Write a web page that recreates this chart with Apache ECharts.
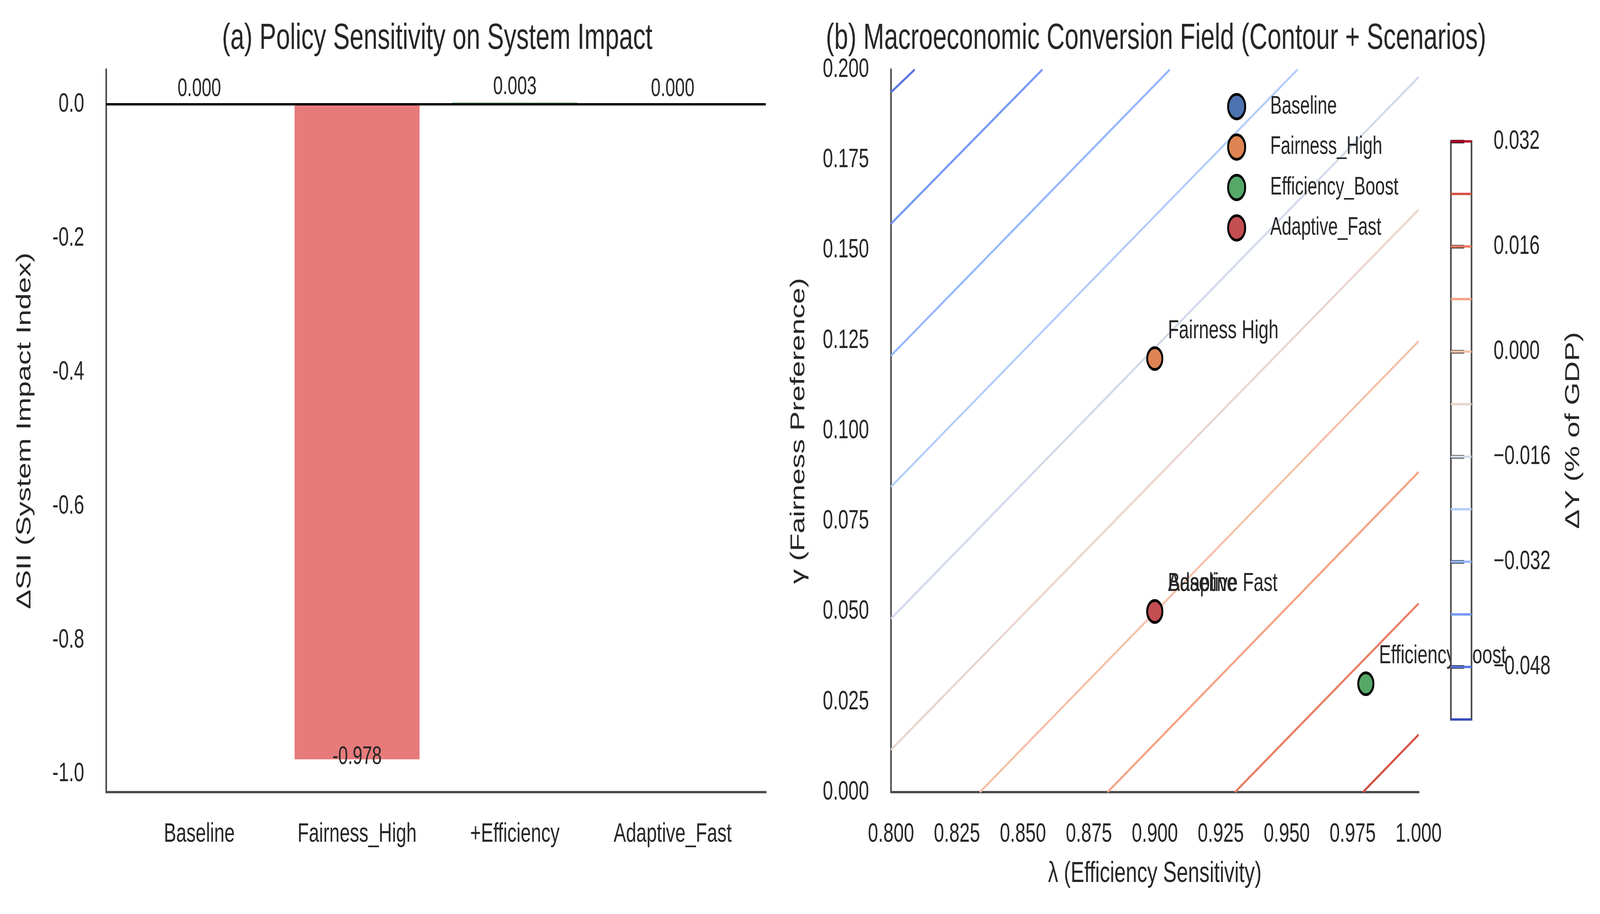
<!DOCTYPE html>
<html><head><meta charset="utf-8">
<script src="https://cdn.jsdelivr.net/npm/echarts@6/dist/echarts.min.js"></script>
<style>html,body{margin:0;padding:0;background:#fff;overflow:hidden}#c{position:absolute;left:0;top:0;width:5892px;height:2340px;transform-origin:0 0}</style>
</head><body><div id="c"></div><script>
// ---- data ----
const categories = ['Baseline', 'Fairness_High', '+Efficiency', 'Adaptive_Fast'];
const deltaSII = [0.000, -0.978, 0.003, 0.000];
const barColors = ['#8c8c8c', '#E77A7B', '#9fd0a4', '#7fa0d0'];

const scenarioNames = ['Baseline', 'Fairness_High', 'Efficiency_Boost', 'Adaptive_Fast'];
const scenarioLambda = [0.90, 0.90, 0.98, 0.90];
const scenarioGamma = [0.05, 0.12, 0.03, 0.05];
const scenarioColors = ['#4C72B0', '#DD8452', '#55A868', '#C44E52'];

// contour lines of ΔY: level, start point, end point (λ, γ)
const contourLevels = [-0.048, -0.040, -0.032, -0.024, -0.016, -0.008, 0.000, 0.008, 0.016, 0.024];
const contourStart = [[0.8, 0.1937], [0.8, 0.1573], [0.8, 0.1208], [0.8, 0.0845], [0.8, 0.0480], [0.8, 0.0117], [0.8337, 0], [0.8821, 0], [0.9304, 0], [0.9789, 0]];
const contourEnd = [[0.8090, 0.2], [0.8574, 0.2], [0.9057, 0.2], [0.9541, 0.2], [1.0, 0.1979], [1.0, 0.1612], [1.0, 0.1248], [1.0, 0.0886], [1.0, 0.0522], [1.0, 0.0159]];
const contourColors = ['#5674e0', '#7598f6', '#95b7ff', '#b4cdfa', '#d1dae9', '#e8d6cc', '#f5c1a8', '#f6a384', '#ea7c61', '#d44e41'];

const colorbarLevels = [-0.056, -0.048, -0.040, -0.032, -0.024, -0.016, -0.008, 0.000, 0.008, 0.016, 0.024, 0.032];
const colorbarColors = ['#3b4cc0', '#5674e0', '#7598f6', '#95b7ff', '#b4cdfa', '#d1dae9', '#e8d6cc', '#f5c1a8', '#f6a384', '#ea7c61', '#d44e41', '#b40426'];
const colorbarTicks = [-0.048, -0.032, -0.016, 0.000, 0.016, 0.032];
const siiTicks = [-1.0, -0.8, -0.6, -0.4, -0.2, 0.0];

// ---- fit the 5892x2340 drawing into the actual window ----
const el = document.getElementById('c');
el.style.transform = 'scale(' + (window.innerWidth / 5892) + ',' + (window.innerHeight / 2340) + ')';

// ---- style ----
const FONT = 'Liberation Sans';
const TXT = '#262626';
const SPINE = '#4d4d4d';
const SW = 6;

const chart = echarts.init(el, null, {renderer: 'canvas', width: 5892, height: 2340});

const series = [];
// bars
series.push({
  type: 'bar', xAxisIndex: 0, yAxisIndex: 0, barWidth: 460,
  data: deltaSII.map((v, i) => ({
    value: [i, v],
    itemStyle: {color: barColors[i]},
    label: v < 0
      ? {show: true, position: 'insideBottom', distance: 0, offset: [0, 26]}
      : {show: true, position: 'top', distance: 7}
  })),
  label: {show: true, formatter: q => q.value[1].toFixed(3), fontSize: 64, color: TXT, fontFamily: FONT},
  markLine: {silent: true, symbol: 'none', label: {show: false},
    lineStyle: {color: '#000', width: 6, type: 'solid'}, data: [{yAxis: 0}]},
  z: 2
});
// contour lines
contourLevels.forEach((lv, i) => {
  series.push({
    type: 'line', xAxisIndex: 1, yAxisIndex: 1, silent: true, symbol: 'none',
    data: [contourStart[i], contourEnd[i]],
    lineStyle: {color: contourColors[i], width: 6}, z: 1
  });
});
// scenarios
scenarioNames.forEach((nm, i) => {
  series.push({
    name: nm, type: 'scatter', xAxisIndex: 1, yAxisIndex: 1,
    data: [[scenarioLambda[i], scenarioGamma[i]]],
    symbolSize: 56,
    itemStyle: {color: scenarioColors[i], borderColor: '#000', borderWidth: 7, opacity: 1},
    label: {show: true, formatter: nm.replace('_', ' '), position: [80, -39], align: 'left', verticalAlign: 'middle',
      fontSize: 66, color: TXT, fontFamily: FONT},
    z: 3 + i
  });
});
// colorbar lines
colorbarLevels.forEach((lv, i) => {
  series.push({
    type: 'line', xAxisIndex: 2, yAxisIndex: 2, silent: true, symbol: 'none',
    data: [[0, lv], [1, lv]],
    lineStyle: {color: colorbarColors[i], width: 6}, z: 12
  });
});

const option = {
  animation: false,
  backgroundColor: '#fff',
  textStyle: {fontFamily: FONT},
  title: [
    {text: '(a) Policy Sensitivity on System Impact', left: 1605, top: 49, textAlign: 'center',
      textStyle: {fontSize: 92, fontWeight: 'normal', color: TXT, fontFamily: FONT}},
    {text: '(b) Macroeconomic Conversion Field (Contour + Scenarios)', left: 4252, top: 49, textAlign: 'center',
      textStyle: {fontSize: 92, fontWeight: 'normal', color: TXT, fontFamily: FONT}}
  ],
  legend: {
    data: scenarioNames, orient: 'vertical', left: 4514, top: 233,
    itemWidth: 63, itemHeight: 63, itemGap: 33.5, icon: 'circle',
    itemStyle: {borderColor: '#000', borderWidth: 7},
    textStyle: {fontSize: 64, color: TXT, fontFamily: FONT, padding: [0, 0, 0, 87]}
  },
  grid: [
    {left: 391, top: 178, width: 2429, height: 1850},
    {left: 3281, top: 178, width: 1943, height: 1850},
    {left: 5343, top: 362, width: 76, height: 1480, show: true, backgroundColor: '#fff',
      borderColor: SPINE, borderWidth: SW, z: 10}
  ],
  xAxis: [
    {gridIndex: 0, type: 'value', min: -0.59, max: 3.59,
      axisLine: {show: true, onZero: false, lineStyle: {color: SPINE, width: SW}},
      axisTick: {show: false}, splitLine: {show: false},
      axisLabel: {customValues: [0, 1, 2, 3], formatter: v => categories[Math.round(v)] || '',
        margin: 74, fontSize: 68, color: TXT, fontFamily: FONT}},
    {gridIndex: 1, type: 'value', min: 0.8, max: 1.0, interval: 0.025,
      axisLine: {show: true, onZero: false, lineStyle: {color: SPINE, width: SW}},
      axisTick: {show: false}, splitLine: {show: false},
      axisLabel: {formatter: v => v.toFixed(3), margin: 74, fontSize: 68, color: TXT, fontFamily: FONT, showMinLabel: true, showMaxLabel: true},
      name: 'λ (Efficiency Sensitivity)', nameLocation: 'middle', nameGap: 172,
      nameTextStyle: {fontSize: 75, color: TXT, fontFamily: FONT}},
    {gridIndex: 2, type: 'value', min: 0, max: 1, show: false}
  ],
  yAxis: [
    {gridIndex: 0, type: 'value', min: -1.027, max: 0.052,
      axisLine: {show: true, onZero: false, lineStyle: {color: SPINE, width: SW}},
      axisTick: {show: false}, splitLine: {show: false},
      axisLabel: {customValues: siiTicks, formatter: v => v.toFixed(1), margin: 81, fontSize: 68, color: TXT, fontFamily: FONT},
      name: 'ΔSII (System Impact Index)', nameLocation: 'middle', nameGap: 262,
      nameTextStyle: {fontSize: 75, color: TXT, fontFamily: FONT}},
    {gridIndex: 1, type: 'value', min: 0, max: 0.2, interval: 0.025,
      axisLine: {show: true, onZero: false, lineStyle: {color: SPINE, width: SW}},
      axisTick: {show: false}, splitLine: {show: false},
      axisLabel: {formatter: v => v.toFixed(3), margin: 81, fontSize: 68, color: TXT, fontFamily: FONT, showMinLabel: true, showMaxLabel: true},
      name: 'γ (Fairness Preference)', nameLocation: 'middle', nameGap: 302,
      nameTextStyle: {fontSize: 75, color: TXT, fontFamily: FONT}},
    {gridIndex: 2, type: 'value', min: -0.056, max: 0.032, position: 'right', z: 12,
      axisLine: {show: false},
      axisTick: {show: true, customValues: colorbarTicks, length: 49, lineStyle: {color: TXT, width: 9}},
      splitLine: {show: false},
      axisLabel: {customValues: colorbarTicks, formatter: v => (v < -1e-9 ? '\u2212' : '') + Math.abs(v).toFixed(3),
        margin: 81, fontSize: 68, color: TXT, fontFamily: FONT},
      name: 'ΔY (% of GDP)', nameLocation: 'middle', nameGap: 338, nameRotate: 90,
      nameTextStyle: {fontSize: 75, color: TXT, fontFamily: FONT}}
  ],
  series: series
};
chart.setOption(option);
</script></body></html>
